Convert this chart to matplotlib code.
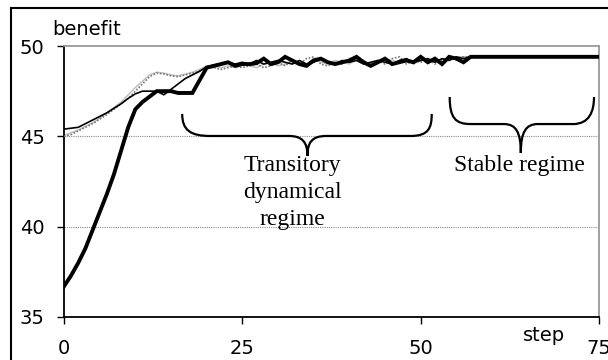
import matplotlib
matplotlib.use("Agg")
import matplotlib.pyplot as plt
from matplotlib.path import Path
from matplotlib.patches import PathPatch, Rectangle

# ---------------- data ----------------
steps = list(range(76))

thick_run = [36.7, 37.3, 38.0, 38.8, 39.8, 40.8, 41.8, 42.9, 44.2, 45.5,
             46.5, 46.9, 47.2, 47.5, 47.5, 47.5, 47.4, 47.4, 47.4, 48.1,
             48.8, 48.9, 49.0, 49.1, 48.9, 49.0, 49.0, 49.05, 49.3, 49.0,
             49.1, 49.4, 49.2, 49.0, 48.9, 49.2, 49.3, 49.1, 49.0, 49.1,
             49.2, 49.4, 49.1, 48.9, 49.1, 49.3, 49.0, 49.1, 49.2, 49.1,
             49.4, 49.1, 49.3, 49.0, 49.4, 49.3, 49.1, 49.4] + [49.4] * 18

thin_run = [45.4, 45.45, 45.5, 45.7, 45.9, 46.1, 46.3, 46.55, 46.8, 47.1,
            47.35, 47.5, 47.5, 47.5, 47.3, 47.6, 47.9, 48.2, 48.4, 48.6,
            48.85, 48.95, 49.0,
            49.1, 49.0, 49.1, 49.0, 49.2, 49.0, 49.1, 49.2, 49.1, 49.0,
            49.2, 49.0, 49.1, 49.3, 49.1, 49.0, 49.2, 49.1, 49.2, 49.0,
            49.1, 49.2, 49.1, 49.0, 49.2, 49.3, 49.1, 49.2, 49.3, 49.1,
            49.3, 49.2, 49.4, 49.3, 49.4] + [49.4] * 18

dotted_run = [45.0, 45.1, 45.3, 45.5, 45.7, 45.95, 46.2, 46.5, 46.8, 47.1,
              47.5, 47.9, 48.3, 48.5, 48.45, 48.35, 48.3, 48.4, 48.5, 48.6,
              48.85, 48.8, 48.7,
              48.8, 48.9, 48.8, 48.9, 49.0, 48.8, 48.9, 49.1, 48.9, 49.2,
              49.0, 49.3, 49.4, 49.0, 48.9, 49.1, 49.0, 49.3, 49.4, 49.1,
              48.9, 49.2, 49.0, 49.3, 49.4, 49.0, 49.2, 49.1, 49.3, 49.0,
              49.2, 49.4, 49.3, 49.4, 49.4] + [49.4] * 18

light_run = [45.05, 45.2, 45.35, 45.55, 45.75, 46.0, 46.3, 46.6, 46.9, 47.3,
             47.7, 48.05, 48.4, 48.55, 48.5, 48.4, 48.35, 48.45, 48.55, 48.7,
             48.9, 48.9, 48.8,
             48.9, 48.8, 49.0, 48.9, 48.8, 49.0, 49.1, 48.9, 49.0, 49.2,
             49.1, 49.0, 49.3, 49.1, 49.0, 49.2, 49.1, 49.0, 49.3, 49.2,
             49.0, 49.1, 49.3, 49.2, 49.1, 49.3, 49.0, 49.2, 49.3, 49.1,
             49.3, 49.2, 49.4, 49.4, 49.4] + [49.4] * 18

x_ticks = [0, 25, 50, 75]
y_ticks = [35, 40, 45, 50]
grid_levels = [40, 45]

annot_texts = ["Transitory\ndynamical\nregime", "Stable regime"]
annot_pos = [(32.0, 43.95), (63.8, 43.95)]

# brace control points (annotation shapes, data coords)
brace1 = [(16.57, 46.24), (16.57, 45.35), (17.7, 45.02), (20.5, 45.02),
          (31.5, 45.02), (33.4, 45.02), (34.13, 44.69), (34.13, 43.91),
          (34.13, 44.69), (34.8, 45.02), (36.8, 45.02),
          (48.6, 45.02), (51.1, 45.02), (51.55, 45.46), (51.55, 46.24)]
brace2 = [(54.07, 47.18), (54.07, 46.01), (54.9, 45.68), (57.0, 45.68),
          (61.66, 45.68), (63.34, 45.68), (64.04, 45.24), (64.04, 44.08),
          (64.04, 45.24), (64.75, 45.68), (66.43, 45.68),
          (71.35, 45.68), (73.6, 45.68), (74.3, 46.35), (74.3, 47.18)]
brace_codes = [Path.MOVETO, Path.CURVE4, Path.CURVE4, Path.CURVE4,
               Path.LINETO, Path.CURVE4, Path.CURVE4, Path.CURVE4,
               Path.CURVE4, Path.CURVE4, Path.CURVE4,
               Path.LINETO, Path.CURVE4, Path.CURVE4, Path.CURVE4]

# ---------------- figure ----------------
W, H = 608, 360
fig = plt.figure(figsize=(W / 100, H / 100), dpi=100)
ax = fig.add_axes([64 / W, 1 - 317 / H, (599 - 64) / W, (317 - 46) / H])

sans = "DejaVu Sans"
serif = "Liberation Serif"

for lv in grid_levels:
    ax.axhline(lv, color="#8a8a8a", lw=0.8, ls=(0, (1, 1)), zorder=1)

ax.plot(steps, light_run, color="#bdbdbd", lw=1.0, zorder=2)
ax.plot(steps, dotted_run, color="#777777", lw=1.2, ls=(0, (1, 1)), zorder=3)
ax.plot(steps, thin_run, color="black", lw=1.2, zorder=4)
ax.plot(steps, thick_run, color="black", lw=2.8, zorder=5,
        solid_joinstyle="miter")

ax.set_xlim(0, 75)
ax.set_ylim(35, 50)
ax.set_xticks(x_ticks)
ax.set_yticks(y_ticks)
ax.tick_params(axis="both", direction="out", length=5, width=1.0,
               color="black", labelsize=14)
ax.tick_params(axis="y", pad=9)
ax.tick_params(axis="x", pad=11)
for lab in ax.get_xticklabels() + ax.get_yticklabels():
    lab.set_fontfamily(sans)

for s in ["left", "bottom"]:
    ax.spines[s].set_color("black")
    ax.spines[s].set_linewidth(1.3)
for s in ["top", "right"]:
    ax.spines[s].set_color("#9a9a9a")
    ax.spines[s].set_linewidth(1.3)

for pts in (brace1, brace2):
    ax.add_patch(PathPatch(Path(pts, brace_codes), fill=False,
                           edgecolor="black", lw=1.6, zorder=6,
                           clip_on=False))

for txt, (tx, ty) in zip(annot_texts, annot_pos):
    ax.text(tx, ty, txt, ha="center", va="top", fontsize=17,
            family=serif, linespacing=1.35, zorder=7)

fig.text(52 / W, 1 - 35 / H, "benefit", ha="left", va="baseline",
         fontsize=14, family=sans)
fig.text(544 / W, 1 - 341 / H, "step", ha="center", va="baseline",
         fontsize=14, family=sans)

fig.patches.append(Rectangle((11 / W, -0.1), 1.2, 1.1 - 8 / H,
                             transform=fig.transFigure, fill=False,
                             edgecolor="black", lw=1.5))

fig.savefig("out.png", dpi=100)
